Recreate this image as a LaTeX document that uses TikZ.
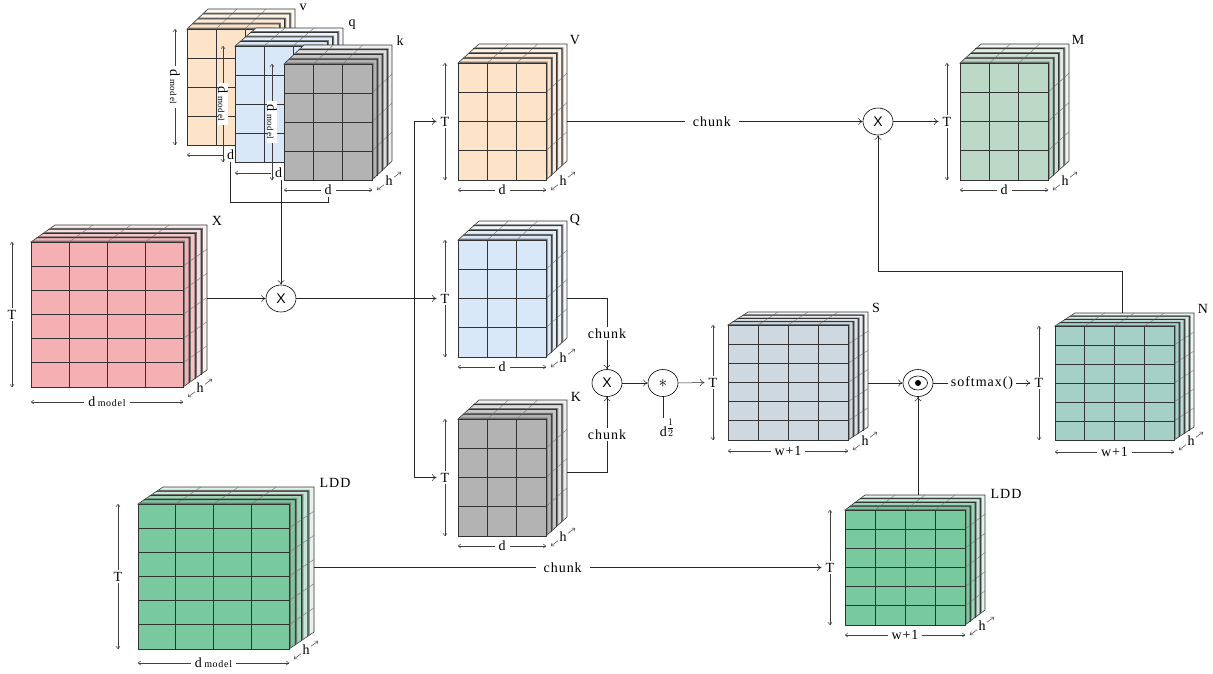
\documentclass[tikz,border=0pt]{standalone}
\usepackage{fontspec}
\setmainfont{Liberation Serif}[LetterSpace=7]
\newfontfamily\opfont{Liberation Sans}
\usetikzlibrary{arrows.meta,calc,shapes.geometric}

\definecolor{peachb}{HTML}{FDE3C8}
\definecolor{blueb}{HTML}{D8E8F8}
\definecolor{greyb}{HTML}{B3B3B3}
\definecolor{pinkb}{HTML}{F4B0B3}
\definecolor{sageb}{HTML}{BCD8C6}
\definecolor{slateb}{HTML}{CED8E0}
\definecolor{tealb}{HTML}{A5D0C6}
\definecolor{greenb}{HTML}{79C99F}

\tikzset{
	gridline/.style={line width=0.8pt, color=black!80},
	edgeline/.style={line width=0.6pt, color=black!80},
	tickline/.style={line width=0.4pt, color=black!55},
	blockbox/.style={inner sep=0pt, outer sep=0pt, anchor=north west},
	dimline/.style={{To[length=3pt,width=4.5pt]}-{To[length=3pt,width=4.5pt]}, line width=0.5pt, color=black!75},
	dimlabel/.style={fill=white, text=black, inner xsep=4pt, inner ysep=1.5pt},
	chunklabel/.style={fill=white, text=black, inner xsep=8pt, inner ysep=1.5pt},
	blocklabel/.style={inner sep=0pt},
	flowline/.style={line width=0.5pt, color=black!85},
	flowarrow/.style={flowline, -{To[length=4.5pt,width=7pt]}},
	mulop/.style={ellipse, draw, line width=0.6pt, minimum width=30pt, minimum height=27pt, inner sep=0pt, fill=white},
}

% name, colour, x/y/w/h/dx/dy/cols/rows
\newcommand{\tensorblock}[3]{
	\foreach \bx/\by/\bw/\bh/\bdx/\bdy/\bc/\br in {#3}{
		\pgfmathsetmacro{\sx}{\bdx/4}
		\pgfmathsetmacro{\sy}{\bdy/4}
		\pgfmathtruncatemacro{\colm}{\bc-1}
		\pgfmathtruncatemacro{\rowm}{\br-1}
		\foreach \i/\tint in {3/22,2/45,1/75,0/100}{
			\pgfmathsetmacro{\lx}{\bx+\i*\sx}
			\pgfmathsetmacro{\ly}{\by-\i*\sy}
			\draw[edgeline, fill=#2!\tint!white] (\lx,\ly) -- ({\lx+\bw},\ly) -- ({\lx+\bw},{\ly+\bh}) -- ({\lx+\bw+\sx},{\ly+\bh-\sy}) -- ({\lx+\bw+\sx},{\ly-\sy}) -- ({\lx+\sx},{\ly-\sy}) -- cycle;
			\foreach \k in {1,...,\colm}{
				\draw[tickline] ({\lx+\k*\bw/\bc},\ly) -- ++(\sx,-\sy);
			}
			\foreach \k in {1,...,\rowm}{
				\draw[tickline] ({\lx+\bw},{\ly+\k*\bh/\br}) -- ++(\sx,-\sy);
			}
			\fill[black!55] (\lx,\ly) -- ({\lx+\bw},\ly) -- ({\lx+\bw},{\ly+\bh}) -- ({\lx+\bw+0.3*\sx},{\ly+\bh-0.3*\sy}) -- ({\lx+\bw+0.3*\sx},{\ly-0.3*\sy}) -- ({\lx+0.3*\sx},{\ly-0.3*\sy}) -- cycle;
			\draw[edgeline, fill=#2!\tint!white] (\lx,\ly) rectangle ({\lx+\bw},{\ly+\bh});
		}
		\foreach \k in {1,...,\colm}{
			\draw[gridline] ({\bx+\k*\bw/\bc},\by) -- ({\bx+\k*\bw/\bc},{\by+\bh});
		}
		\foreach \k in {1,...,\rowm}{
			\draw[gridline] (\bx,{\by+\k*\bh/\br}) -- ({\bx+\bw},{\by+\k*\bh/\br});
		}
		\node[blockbox, minimum width={\bw*1pt}, minimum height={\bh*1pt}] (#1f) at (\bx,\by) {};
		\node[blockbox, minimum width={(\bw+\bdx)*1pt}, minimum height={(\bh+\bdy)*1pt}] (#1) at (\bx,{\by-\bdy}) {};
	}
}
\newcommand{\dimwidth}[3]{\draw[dimline] ([yshift=-#2pt]#1f.south west) -- node[dimlabel] (#1d) {#3} ([yshift=-#2pt]#1f.south east);}
\newcommand{\dimheight}[4][]{\draw[dimline] ([xshift=-#3pt]#2f.north west) -- node[dimlabel, #1] (#2t) {#4} ([xshift=-#3pt]#2f.south west);}
\newcommand{\dimdepth}[1]{\draw[dimline] ([shift={(5pt,-10pt)}]#1f.south east) -- node[fill=white, text=black, inner sep=1.5pt] (#1h) {h} ([shift={(29pt,8pt)}]#1f.south east);}
\newcommand{\dmodel}[1]{d\,{\fontsize{#1}{#1}\selectfont model}}

\begin{document}
\begin{tikzpicture}[x=1pt, y=-1pt, font=\fontsize{14}{16}\selectfont]
	%%%%% START %%%%%
	\useasboundingbox (0,0) rectangle (1213,673);

	\tensorblock{v}{peachb}{187/29/87/116/21/20/3/4}
	\dimheight[rotate=-90, inner ysep=0.3pt]{v}{12}{\dmodel{9}}
	\dimwidth{v}{10}{d}
	\tensorblock{q}{blueb}{235/46/87/116/21/18/3/4}
	\dimheight[rotate=-90, inner ysep=0.3pt]{q}{12}{\dmodel{9}}
	\dimwidth{q}{11}{d}
	\tensorblock{k}{greyb}{284/64/88/116/20/19/3/4}
	\dimheight[rotate=-90, inner ysep=0.3pt]{k}{12}{\dmodel{9}}
	\dimwidth{k}{10}{d}
	\dimdepth{k}

	\tensorblock{X}{pinkb}{31/242/152/145/24/17/4/6}
	\dimheight{X}{19}{T}
	\dimwidth{X}{15}{\dmodel{10}}
	\dimdepth{X}

	\tensorblock{V}{peachb}{458/63/88/117/21/19/3/4}
	\dimheight{V}{13}{T}
	\dimwidth{V}{10}{d}
	\dimdepth{V}
	\tensorblock{Q}{blueb}{458/240/88/117/21/19/3/4}
	\dimheight{Q}{13}{T}
	\dimwidth{Q}{10}{d}
	\dimdepth{Q}
	\tensorblock{K}{greyb}{458/419/88/117/21/19/3/4}
	\dimheight{K}{13}{T}
	\dimwidth{K}{10}{d}
	\dimdepth{K}
	\tensorblock{M}{sageb}{960/63/88/117/21/19/3/4}
	\dimheight{M}{13}{T}
	\dimwidth{M}{10}{d}
	\dimdepth{M}

	\tensorblock{S}{slateb}{728/325/120/115/20/13/4/6}
	\dimheight{S}{15}{T}
	\dimwidth{S}{11}{w+1}
	\dimdepth{S}
	\tensorblock{N}{tealb}{1055/326/119/114/20/13/4/6}
	\dimheight{N}{16}{T}
	\dimwidth{N}{12}{w+1}
	\dimdepth{N}

	\tensorblock{LDDa}{greenb}{138/504/151/145/25/17/4/6}
	\dimheight{LDDa}{20}{T}
	\dimwidth{LDDa}{14}{\dmodel{10}}
	\dimdepth{LDDa}
	\tensorblock{LDDb}{greenb}{845/510/120/115/20/15/4/6}
	\dimheight{LDDb}{15}{T}
	\dimwidth{LDDb}{10}{w+1}
	\dimdepth{LDDb}

	\node[blocklabel] (vl) at (303,7) {v};
	\node[blocklabel] (ql) at (352,25) {q};
	\node[blocklabel] (kl) at (400,41) {k};
	\node[blocklabel] (Xl) at (217,221) {X};
	\node[blocklabel] (Vl) at (575,40) {V};
	\node[blocklabel] (Ql) at (575,220) {Q};
	\node[blocklabel] (Kl) at (576,397) {K};
	\node[blocklabel] (Ml) at (1078,40) {M};
	\node[blocklabel] (Sl) at (876,308) {S};
	\node[blocklabel] (Nl) at (1203,309) {N};
	\node[blocklabel] (LDDal) at (335,483) {LDD};
	\node[blocklabel] (LDDbl) at (1006,494) {LDD};

	\node[mulop] (mulA) at (281,298.5) {\opfont X};
	\node[mulop] (mulB) at (607,383) {\opfont X};
	\node[mulop] (mulM) at (878,121.5) {\opfont X};
	\node[mulop] (star) at (663,383) {\fontsize{18}{18}\selectfont$*$};
	\node[mulop] (dotp) at (918,383) {};
	\draw[line width=0.6pt] (dotp.center) ellipse (9.5 and 7);
	\fill (dotp.center) circle (3);
	\node[inner sep=3pt] (softmax) at (982,383) {softmax()};
	\node[inner sep=1pt] (dhalf) at (667,428) {d\raisebox{5pt}{$\frac{1}{2}$}};
	\coordinate (split) at (414,298.5);

	\draw[flowline] (vd.south) -- ++(0,41) -| (kd.south);
	\draw[flowarrow] (qd.south -| mulA.north) -- (mulA.north);
	\draw[flowarrow] (X.east |- mulA.west) -- (mulA.west);
	\draw[flowarrow] (mulA.east) -- (Qt.west);
	\draw[flowarrow] (split) |- (Vt.west);
	\draw[flowarrow] (split) |- (Kt.west);
	\draw[flowarrow] (V.east |- mulM.west) -- node[chunklabel, pos=0.49] (chunkV) {chunk} (mulM.west);
	\draw[flowarrow] (mulM.east) -- (Mt.west);
	\draw[flowarrow] ([xshift=-2pt]N.north) -- ++(0,-42) -| (mulM.south);
	\draw[flowarrow] (Q.east |- Qf.east) -| node[chunklabel, pos=0.75] (chunkQ) {chunk} (mulB.north);
	\draw[flowarrow] ([yshift=-4pt]K.east) -| node[chunklabel, pos=0.75] (chunkK) {chunk} (mulB.south);
	\draw[flowarrow] (mulB.east) -- (star.west);
	\draw[flowarrow] (star.east) -- (St.west);
	\draw[flowline] (star.south) -- (dhalf.north -| star.south);
	\draw[flowarrow] (S.east |- dotp.west) -- (dotp.west);
	\draw[flowline] (dotp.east) -- (softmax.west);
	\draw[flowarrow] (softmax.east) -- (Nt.west);
	\draw[flowarrow] (LDDb.north -| dotp.south) -- (dotp.south);
	\draw[flowarrow] (LDDa.east |- LDDbt.west) -- node[chunklabel, pos=0.49] (chunkL) {chunk} (LDDbt.west);
	%%%%% END %%%%%
\end{tikzpicture}
\end{document}
